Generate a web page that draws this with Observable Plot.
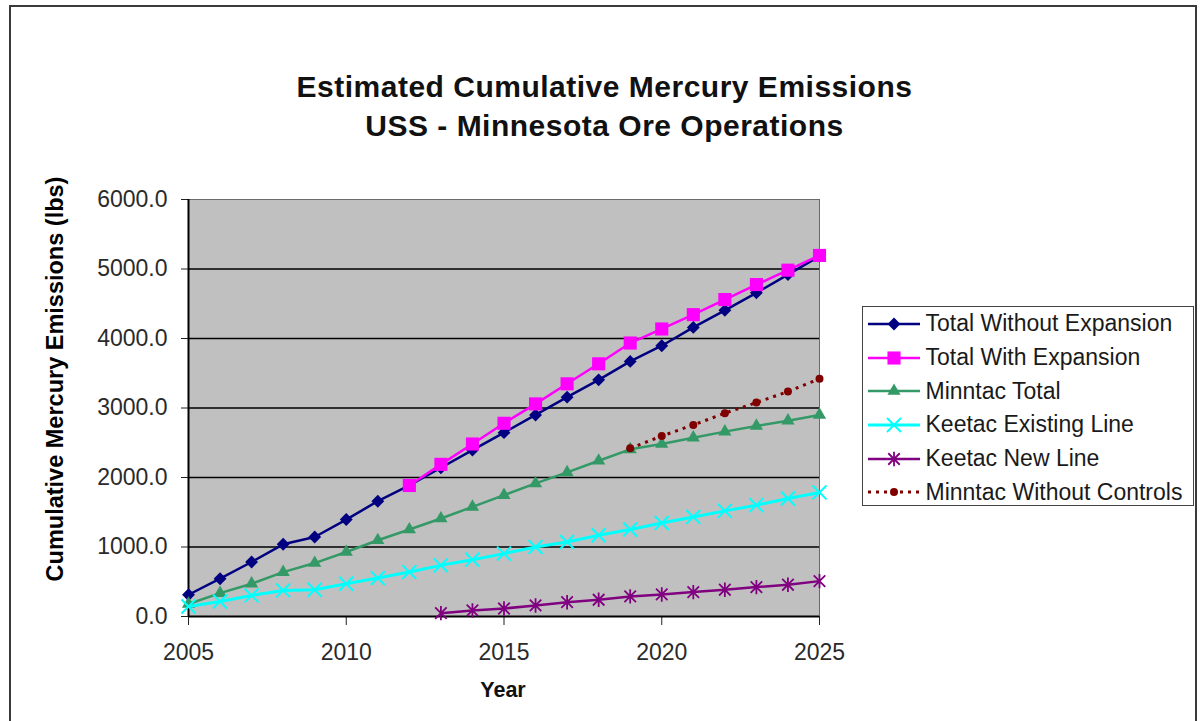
<!DOCTYPE html>
<html>
<head>
<meta charset="utf-8">
<script src="https://cdn.jsdelivr.net/npm/d3@7"></script>
<script src="https://cdn.jsdelivr.net/npm/@observablehq/plot@0.6"></script>
<style>
  body { margin: 0; background: #fff; font-family: "Liberation Sans", Arial, sans-serif; }
  #wrap { position: relative; width: 1202px; height: 721px; overflow: hidden; background: #fff; }
  #frame { position: absolute; left: 9px; top: 5px; width: 1184px; height: 800px; border: 2px solid #3a3a3a; }
  #chart { position: absolute; left: 0; top: 0; }
  #title { position: absolute; left: 0; top: 67px; width: 1209px; text-align: center; font-weight: bold;
           font-size: 30px; line-height: 39px; letter-spacing: 0.5px; color: #111; }
  #ylabel { position: absolute; left: 55.5px; top: 379px; transform: translate(-50%, -50%) rotate(-90deg);
            white-space: nowrap; font-weight: bold; font-size: 23.5px; line-height: 1; color: #000; }
  #xlabel { position: absolute; left: 403px; width: 200px; top: 680px; text-align: center; font-weight: bold;
            font-size: 21.5px; line-height: 1; color: #111; }
  #legend { position: absolute; left: 862px; top: 306px; width: 330px; height: 198px; border: 1.5px solid #444; background: #fff; }
  .row { position: absolute; left: 0; height: 30px; display: flex; align-items: center; white-space: nowrap;
         font-size: 23px; color: #1a1a1a; }
  .row svg { margin-left: 4.5px; margin-right: 6px; }
</style>
</head>
<body>
<div id="wrap">
  <div id="frame"></div>
  <div id="chart"></div>
  <div id="title">Estimated Cumulative Mercury Emissions<br>USS - Minnesota Ore Operations</div>
  <div id="ylabel">Cumulative Mercury Emissions (lbs)</div>
  <div id="xlabel">Year</div>
  <div id="legend"></div>
</div>
<script>
// ---- data ----
const years = [2005, 2006, 2007, 2008, 2009, 2010, 2011, 2012, 2013, 2014, 2015,
               2016, 2017, 2018, 2019, 2020, 2021, 2022, 2023, 2024, 2025];
const totalWithout = [313, 544, 784, 1039, 1144, 1395, 1659, 1885, 2140, 2395, 2645,
                      2900, 3156, 3405, 3670, 3896, 4160, 4405, 4657, 4920, 5185];
const totalWith = [null, null, null, null, null, null, null, 1885, 2189, 2482, 2780,
                   3059, 3348, 3636, 3935, 4137, 4343, 4560, 4776, 4983, 5195];
const minntacTotal = [180, 336, 472, 639, 769, 928, 1097, 1251, 1410, 1577, 1746,
                      1915, 2073, 2241, 2405, 2482, 2573, 2660, 2742, 2818, 2900];
const keetacExisting = [144, 216, 303, 375, 385, 472, 553, 639, 736, 818, 905,
                        1000, 1072, 1169, 1251, 1346, 1433, 1520, 1602, 1698, 1785];
const keetacNew = [null, null, null, null, null, null, null, null, 48, 87, 115,
                   159, 206, 241, 289, 317, 351, 385, 423, 457, 509];
const minntacNoControls = [null, null, null, null, null, null, null, null, null, null, null,
                           null, null, null, 2420, 2597, 2756, 2925, 3078, 3237, 3420];

const seriesNames = ["Total Without Expansion", "Total With Expansion", "Minntac Total",
                     "Keetac Existing Line", "Keetac New Line", "Minntac Without Controls"];
const seriesValues = [totalWithout, totalWith, minntacTotal, keetacExisting, keetacNew, minntacNoControls];

const yTicks = [0, 1000, 2000, 3000, 4000, 5000, 6000];
const gridTicks = [1000, 2000, 3000, 4000, 5000];
const xTicks = [2005, 2010, 2015, 2020, 2025];

// Excel-style star marker: an X with a vertical bar
const excelStar = {
  draw(context, size) {
    const r = Math.sqrt(size / Math.PI);
    const d = r * 0.8;
    context.moveTo(-d, -d); context.lineTo(d, d);
    context.moveTo(-d, d); context.lineTo(d, -d);
    context.moveTo(0, -r); context.lineTo(0, r);
  }
};

// ---- styles ----
const styles = [
  {color: "#000080", symbol: d3.symbolDiamond2, r: 5.8, filled: true, width: 2.5},
  {color: "#ff00ff", symbol: d3.symbolSquare, r: 7.4, filled: true, width: 2.5},
  {color: "#339966", symbol: d3.symbolTriangle, r: 4.9, filled: true, width: 2.5},
  {color: "#00ffff", symbol: d3.symbolTimes, r: 6.4, filled: false, width: 3, sw: 2},
  {color: "#800080", symbol: excelStar, r: 7.2, filled: false, width: 2.5, sw: 1.8},
  {color: "#800000", symbol: d3.symbolCircle, r: 4, filled: true, width: 3, dash: "3,5"}
];

const series = seriesValues.map(vals =>
  years.map((year, i) => ({year, value: vals[i]})).filter(d => d.value != null));

const marks = [
  Plot.frame({fill: "#c0c0c0"}),
  Plot.ruleY(gridTicks, {stroke: "#000", strokeWidth: 1.6}),
  Plot.frame({stroke: "#6a6a6a", strokeWidth: 1}),
  Plot.axisY({ticks: yTicks, tickFormat: d => d.toFixed(1), tickSize: 7, tickPadding: 14,
              label: null, fontSize: 23, stroke: "#222", fill: "#2a2a2a"}),
  Plot.axisX({ticks: xTicks, tickFormat: d => String(d), tickSize: 9, tickPadding: 18,
              label: null, fontSize: 23, stroke: "#222", fill: "#2a2a2a"}),
  Plot.ruleY([0], {stroke: "#000", strokeWidth: 2}),
  Plot.ruleX([2005], {stroke: "#000", strokeWidth: 2})
];

series.forEach((data, k) => {
  const s = styles[k];
  marks.push(Plot.line(data, {x: "year", y: "value", stroke: s.color, strokeWidth: s.width,
                              strokeDasharray: s.dash, strokeLinecap: "butt"}));
  marks.push(Plot.dot(data, {x: "year", y: "value", symbol: s.symbol, r: s.r,
                             fill: s.filled ? s.color : "none",
                             stroke: s.filled ? "none" : s.color,
                             strokeWidth: s.sw || 1}));
});

const chart = Plot.plot({
  width: 1202,
  height: 721,
  marginLeft: 188,
  marginRight: 383,
  marginTop: 199,
  marginBottom: 105,
  x: {domain: [2005, 2025]},
  y: {domain: [0, 6000]},
  style: {fontFamily: "'Liberation Sans', Arial, sans-serif", fontSize: "23px", color: "#1a1a1a",
          background: "transparent", overflow: "visible"},
  marks
});
document.getElementById("chart").appendChild(chart);

// ---- legend ----
const legend = document.getElementById("legend");
seriesNames.forEach((name, k) => {
  const s = styles[k];
  const path = d3.symbol(s.symbol, s.r * s.r * Math.PI)();
  const row = document.createElement("div");
  row.className = "row";
  row.style.top = (16.8 + k * 33.7 - 15) + "px";
  row.innerHTML =
    `<svg width="52" height="20" viewBox="0 0 52 20">` +
    `<line x1="0" y1="10" x2="52" y2="10" stroke="${s.color}" stroke-width="${s.width}"` +
    (s.dash ? ` stroke-dasharray="${s.dash}"` : "") + `/>` +
    `<path transform="translate(26,10)" d="${path}" fill="${s.filled ? s.color : "none"}"` +
    ` stroke="${s.filled ? "none" : s.color}" stroke-width="${s.sw || 1}"/>` +
    `</svg><span>${name}</span>`;
  legend.appendChild(row);
});
</script>
</body>
</html>
